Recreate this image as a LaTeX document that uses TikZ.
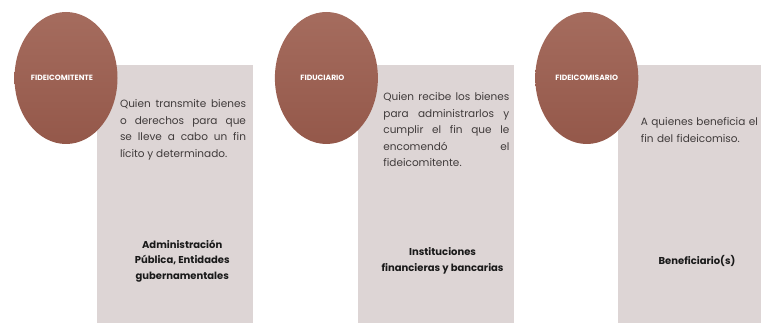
\documentclass[tikz,border=0pt]{standalone}
\usepackage{fontspec}
\setmainfont{Poppins}
\usetikzlibrary{shapes.geometric,calc,positioning}

\hyphenpenalty=10000
\exhyphenpenalty=10000

\definecolor{cardgray}{HTML}{DDD5D5}
\definecolor{rolebrown}{HTML}{94584A}
\definecolor{roletop}{HTML}{A56C5E}
\definecolor{desctext}{HTML}{403B3B}

\begin{document}
\begin{tikzpicture}[
	x=1pt, y=-1pt,
	node distance=104pt
	]
\tikzset{
	card/.style = { rectangle, fill=cardgray, minimum width=156pt, minimum height=258pt, inner sep=0pt },
	role/.style = { ellipse, top color=roletop, bottom color=rolebrown, minimum width=103pt, minimum height=132pt, inner sep=0pt,
		text=white, font=\fontsize{7.6}{9}\selectfont\bfseries },
	desc/.style = { text width=126pt, align=justify, inner sep=0pt, text=desctext,
		font=\fontsize{10.5}{16.5}\selectfont },
	who/.style = { align=center, inner sep=0pt, text=black!90,
		font=\fontsize{10}{15.5}\selectfont\bfseries }
}
	\useasboundingbox (0,0) rectangle (761,323);
	\clip (0,0) rectangle (761,323);

	% cards
	\node (cardA) [card, anchor=north west] at (97,65) {};
	\node (cardB) [card, right=of cardA] {};
	\node (cardC) [card, right=of cardB] {};

	% circles
	\node (roleA) [role] at ($(cardA.north west)+(-31,13)$) {\hspace*{-8pt}FIDEICOMITENTE};
	\node (roleB) [role] at ($(cardB.north west)+(-31,13)$) {\hspace*{-8pt}FIDUCIARIO};
	\node (roleC) [role] at ($(cardC.north west)+(-31,13)$) {FIDEICOMISARIO};

	% descriptions
	\node (descA) [desc] at ($(cardA.north west)+(86,65)$) {Quien transmite bienes\linebreak o derechos para que\linebreak se lleve a cabo un fin\linebreak lícito y determinado.};
	\node (descB) [desc] at ($(cardB.north west)+(89,65)$) {Quien recibe los bienes\linebreak para administrarlos y\linebreak cumplir el fin que le\linebreak encomendó el\linebreak fideicomitente.};
	\node (descC) [desc, align=left] at ($(cardC.north west)+(86,65)$) {A quienes beneficia el\\fin del fideicomiso.};

	% who
	\node (whoA) [who] at ($(cardA.north)+(7,196)$) {Administración\\Pública, Entidades\\gubernamentales};
	\node (whoB) [who] at ($(cardB.north)+(7,196)$) {Instituciones\\financieras y bancarias};
	\node (whoC) [who] at ($(cardC.north)+(1,196)$) {Beneficiario(s)};

\end{tikzpicture}
\end{document}
